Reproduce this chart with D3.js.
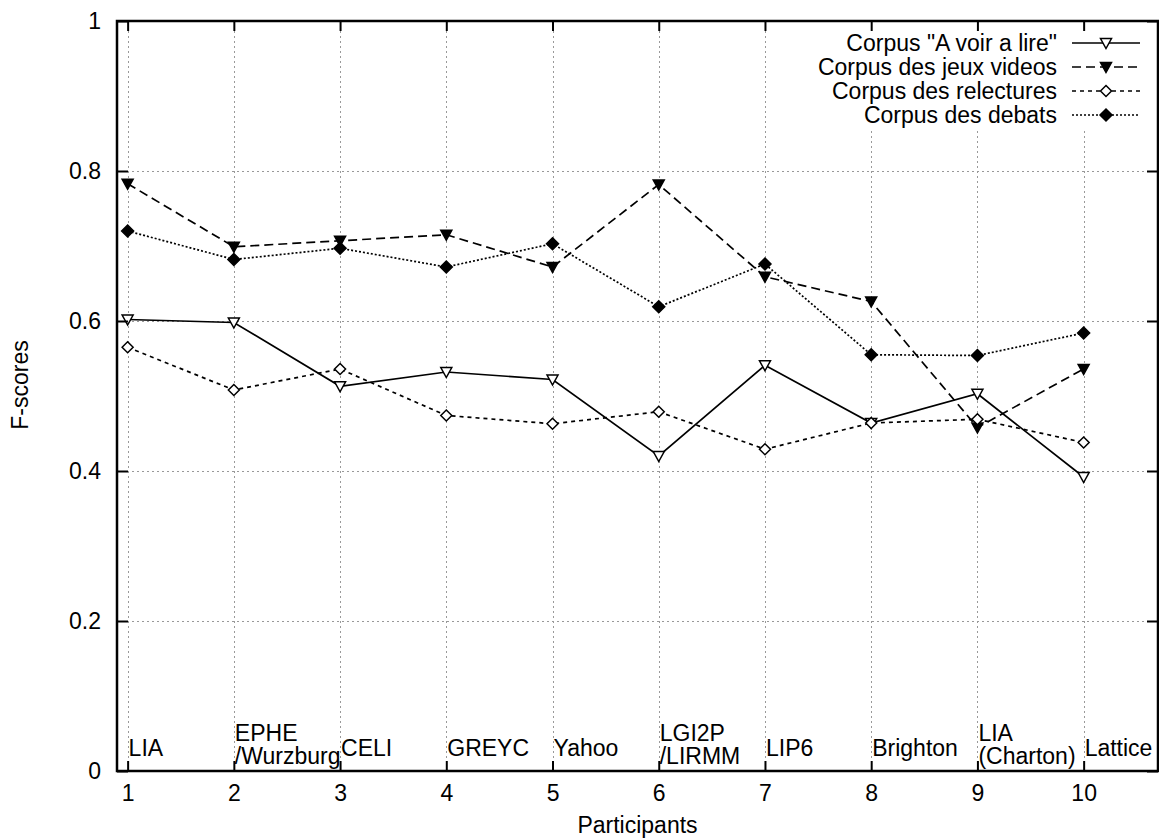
<!DOCTYPE html>
<html>
<head>
<meta charset="utf-8">
<script src="https://cdn.jsdelivr.net/npm/d3@7"></script>
<style>
  body { margin: 0; background: #fff; }
  svg { display: block; font-family: "Liberation Sans", Arial, sans-serif; }
</style>
</head>
<body>
<svg id="chart" width="1159" height="839"></svg>
<script>
// participants (x = 1..10), labels drawn inside the plot near the bottom
const participants = [
  ['LIA'], ['EPHE', '/Wurzburg'], ['CELI'], ['GREYC'], ['Yahoo'],
  ['LGI2P', '/LIRMM'], ['LIP6'], ['Brighton'], ['LIA', '(Charton)'], ['Lattice']
];
const xTicks = [1, 2, 3, 4, 5, 6, 7, 8, 9, 10];
const yTicks = [0, 0.2, 0.4, 0.6, 0.8, 1];

const seriesNames = ['Corpus "A voir a lire"', 'Corpus des jeux videos', 'Corpus des relectures', 'Corpus des debats'];
const voirALire  = [0.602, 0.598, 0.513, 0.532, 0.522, 0.420, 0.541, 0.464, 0.503, 0.392];
const jeuxVideos = [0.783, 0.699, 0.707, 0.715, 0.672, 0.782, 0.659, 0.626, 0.458, 0.536];
const relectures = [0.565, 0.508, 0.536, 0.474, 0.463, 0.479, 0.429, 0.464, 0.469, 0.438];
const debats     = [0.720, 0.682, 0.697, 0.672, 0.703, 0.619, 0.676, 0.555, 0.554, 0.584];

const svg = d3.select('#chart');
const plotL = 117, plotR = 1158, plotT = 21, plotB = 771;
const fs = 23;

const x = d3.scaleLinear().domain([0.9, 10.7]).range([plotL, plotR]);
const y = d3.scaleLinear().domain([0, 1]).range([plotB, plotT]);

// grid
const grid = svg.append('g').attr('stroke', '#999').attr('stroke-width', 1).attr('stroke-dasharray', '2,3');
grid.selectAll('.gx').data(xTicks).enter().append('line')
    .attr('x1', d => Math.round(x(d)) + 0.5).attr('x2', d => Math.round(x(d)) + 0.5)
    .attr('y1', plotT).attr('y2', plotB);
grid.selectAll('.gy').data(yTicks.slice(1, -1)).enter().append('line')
    .attr('x1', plotL).attr('x2', plotR)
    .attr('y1', d => Math.round(y(d)) + 0.5).attr('y2', d => Math.round(y(d)) + 0.5);

// participant labels
const lbl = svg.append('g').attr('font-size', fs).attr('fill', '#000');
participants.forEach((lines, i) => {
    const t = lbl.append('text').attr('x', x(xTicks[i]) + 1);
    if (lines.length === 1) {
        t.attr('y', 756).text(lines[0]);
    } else {
        t.append('tspan').attr('x', x(xTicks[i]) + 1).attr('y', 741).text(lines[0]);
        t.append('tspan').attr('x', x(xTicks[i]) + 1).attr('y', 764).text(lines[1]);
    }
});

// markers
function triDown(s) {
    return `M${-s},${-s * 0.8}L${s},${-s * 0.8}L0,${s}Z`;
}
function diamond(s) {
    return `M0,${-s}L${s},0L0,${s}L${-s},0Z`;
}
const styles = [
    { data: voirALire,  dash: null,  path: triDown(5.5), fill: '#fff' },
    { data: jeuxVideos, dash: '9,5', path: triDown(5.5), fill: '#000' },
    { data: relectures, dash: '4,4', path: diamond(5.5), fill: '#fff' },
    { data: debats,     dash: '2,2', path: diamond(6),   fill: '#000' }
];

const line = d3.line().x((d, i) => x(xTicks[i])).y(d => y(d));

styles.forEach(s => {
    svg.append('path').datum(s.data)
        .attr('d', line)
        .attr('fill', 'none')
        .attr('stroke', '#000')
        .attr('stroke-width', 1.7)
        .attr('stroke-dasharray', s.dash);
});
styles.forEach(s => {
    svg.append('g').selectAll('path').data(s.data).enter().append('path')
        .attr('transform', (d, i) => `translate(${x(xTicks[i])},${y(d)})`)
        .attr('d', s.path)
        .attr('fill', s.fill)
        .attr('stroke', '#000')
        .attr('stroke-width', 1.5);
});

// key (opaque)
svg.append('rect').attr('x', 795).attr('y', plotT + 2).attr('width', plotR - 797).attr('height', 105).attr('fill', '#fff');
const key = svg.append('g').attr('font-size', fs);
styles.forEach((s, i) => {
    const ky = 43 + i * 24;
    key.append('text').attr('x', 1057).attr('y', ky).attr('dy', '0.35em')
        .attr('text-anchor', 'end').text(seriesNames[i]);
    key.append('line').attr('x1', 1072).attr('x2', 1140).attr('y1', ky).attr('y2', ky)
        .attr('stroke', '#000').attr('stroke-width', 1.4).attr('stroke-dasharray', s.dash);
    key.append('path').attr('transform', `translate(1106,${ky})`).attr('d', s.path)
        .attr('fill', s.fill).attr('stroke', '#000').attr('stroke-width', 1.5);
});

// axes with inward ticks
const axisFont = g => {
    g.select('.domain').remove();
    g.selectAll('text').attr('font-size', fs).attr('font-family', '"Liberation Sans", Arial, sans-serif').attr('fill', '#000');
    g.selectAll('line').attr('stroke-width', 2);
};
svg.append('g').attr('transform', `translate(0,${plotB})`)
    .call(d3.axisBottom(x).tickValues(xTicks).tickFormat(d3.format('d')).tickSizeInner(-10).tickSizeOuter(0).tickPadding(14))
    .call(axisFont);
svg.append('g').attr('transform', `translate(0,${plotT})`)
    .call(d3.axisTop(x).tickValues(xTicks).tickFormat('').tickSizeInner(-10).tickSizeOuter(0))
    .call(axisFont);
svg.append('g').attr('transform', `translate(${plotL},0)`)
    .call(d3.axisLeft(y).tickValues(yTicks).tickFormat(d3.format('~g')).tickSizeInner(-11).tickSizeOuter(0).tickPadding(16))
    .call(axisFont);
svg.append('g').attr('transform', `translate(${plotR},0)`)
    .call(d3.axisRight(y).tickValues(yTicks).tickFormat('').tickSizeInner(-11).tickSizeOuter(0))
    .call(axisFont);

// frame
svg.append('rect').attr('x', plotL).attr('y', plotT).attr('width', plotR - plotL).attr('height', plotB - plotT)
    .attr('fill', 'none').attr('stroke', '#000').attr('stroke-width', 2.5);

// axis titles
svg.append('text').attr('x', (plotL + plotR) / 2).attr('y', 833).attr('text-anchor', 'middle')
    .attr('font-size', fs).text('Participants');
svg.append('text').attr('transform', 'translate(28,385) rotate(-90)').attr('text-anchor', 'middle')
    .attr('font-size', fs).text('F-scores');
</script>
</body>
</html>
